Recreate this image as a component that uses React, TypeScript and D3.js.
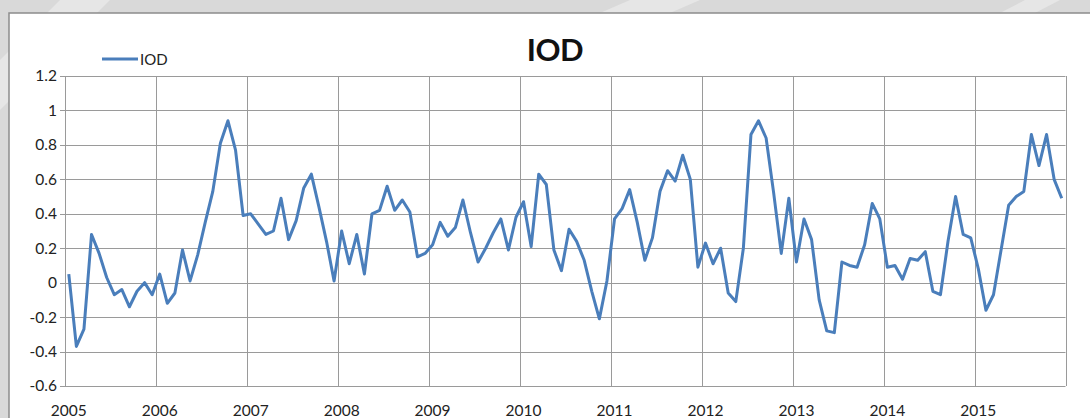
import * as d3 from 'd3';
import React, { useEffect, useRef } from "react";

// monthly IOD index, Jan 2005 .. Dec 2015
const iod2005_2007: number[] = [
    0.05, -0.37, -0.27, 0.28, 0.17, 0.03, -0.07, -0.04, -0.14, -0.05, 0.00, -0.07,
    0.05, -0.12, -0.06, 0.19, 0.01, 0.16, 0.35, 0.53, 0.81, 0.94, 0.77, 0.39,
    0.40, 0.34, 0.28, 0.30, 0.49, 0.25, 0.36, 0.55, 0.63, 0.44, 0.24, 0.01,
];
const iod2008_2010: number[] = [
    0.30, 0.11, 0.28, 0.05, 0.40, 0.42, 0.56, 0.42, 0.48, 0.41, 0.15, 0.17,
    0.22, 0.35, 0.27, 0.32, 0.48, 0.29, 0.12, 0.20, 0.29, 0.37, 0.19, 0.38,
    0.47, 0.21, 0.63, 0.57, 0.19, 0.07, 0.31, 0.24, 0.13, -0.05, -0.21, 0.01,
];
const iod2011_2013: number[] = [
    0.37, 0.43, 0.54, 0.35, 0.13, 0.26, 0.53, 0.65, 0.59, 0.74, 0.60, 0.09,
    0.23, 0.11, 0.20, -0.06, -0.11, 0.20, 0.86, 0.94, 0.84, 0.52, 0.17, 0.49,
    0.12, 0.37, 0.25, -0.10, -0.28, -0.29, 0.12, 0.10, 0.09, 0.22, 0.46, 0.37,
];
const iod2014_2015: number[] = [
    0.09, 0.10, 0.02, 0.14, 0.13, 0.18, -0.05, -0.07, 0.24, 0.50, 0.28, 0.26,
    0.08, -0.16, -0.07, 0.19, 0.45, 0.50, 0.53, 0.86, 0.68, 0.86, 0.60, 0.49,
];
const iodValues: number[] = [...iod2005_2007, ...iod2008_2010, ...iod2011_2013, ...iod2014_2015];

const yearLabels: string[] = ["2005", "2006", "2007", "2008", "2009", "2010", "2011", "2012", "2013", "2014", "2015"];
const yTicks: number[] = [-0.6, -0.4, -0.2, 0, 0.2, 0.4, 0.6, 0.8, 1, 1.2];

const App: React.FC = () => {
    const ref = useRef<SVGSVGElement>(null);

    useEffect(() => {
        if (!ref.current) return;
        const width = 1090;
        const height = 418;
        const left = 65, right = 1065.5, top = 76, bottom = 386;
        const font = "Lato, 'Open Sans', sans-serif";
        const gridColor = '#9a9a9a';

        const svg = d3.select(ref.current)
            .attr('width', width)
            .attr('height', height);
        svg.selectAll('*').remove();

        // grey page behind the chart box
        svg.append('rect').attr('width', width).attr('height', height).attr('fill', '#d9d9d9');
        svg.append('path')
            .attr('d', 'M0,60 L60,0 L110,0 L0,110 Z M600,13 L630,0 L700,0 L670,13 Z M1000,13 L1025,0 L1060,0 L1035,13 Z')
            .attr('fill', '#e6e6e6');
        svg.append('rect')
            .attr('x', 9).attr('y', 13)
            .attr('width', width).attr('height', height)
            .attr('fill', '#ffffff')
            .attr('stroke', '#8c8c8c')
            .attr('stroke-width', 1.5);

        const x = d3.scaleLinear().domain([0, iodValues.length]).range([left, right]);
        const y = d3.scaleLinear().domain([-0.6, 1.2]).range([bottom, top]);

        // horizontal grid + y ticks
        const g = svg.append('g');
        g.selectAll('.hgrid')
            .data(yTicks)
            .enter()
            .append('line')
            .attr('x1', left - 5).attr('x2', right)
            .attr('y1', d => Math.round(y(d)) + 0.5).attr('y2', d => Math.round(y(d)) + 0.5)
            .attr('stroke', gridColor);

        // vertical grid at year boundaries
        const yearStarts = yearLabels.map((_, i) => i * 12).concat([iodValues.length]);
        g.selectAll('.vgrid')
            .data(yearStarts)
            .enter()
            .append('line')
            .attr('x1', d => Math.round(x(d)) + 0.5).attr('x2', d => Math.round(x(d)) + 0.5)
            .attr('y1', top).attr('y2', bottom)
            .attr('stroke', gridColor);

        g.selectAll('.ylab')
            .data(yTicks)
            .enter()
            .append('text')
            .attr('x', 57)
            .attr('y', d => y(d))
            .attr('dy', '0.35em')
            .attr('text-anchor', 'end')
            .attr('font-family', font)
            .attr('font-size', 15.5)
            .attr('fill', '#222')
            .text(d => String(+d.toFixed(1)));

        g.selectAll('.xlab')
            .data(yearLabels)
            .enter()
            .append('text')
            .attr('x', (_, i) => x(i * 12 + 0.5))
            .attr('y', 416)
            .attr('text-anchor', 'middle')
            .attr('font-family', font)
            .attr('font-size', 15.5)
            .attr('fill', '#222')
            .text(d => d);

        const line = d3.line<number>()
            .x((_, i) => x(i + 0.5))
            .y(d => y(d));

        svg.append('path')
            .datum(iodValues)
            .attr('d', line)
            .attr('fill', 'none')
            .attr('stroke', '#4a7ebb')
            .attr('stroke-width', 3)
            .attr('stroke-linejoin', 'round');

        // title
        svg.append('text')
            .attr('x', 555).attr('y', 61)
            .attr('text-anchor', 'middle')
            .attr('font-family', font)
            .attr('font-weight', 'bold')
            .attr('font-size', 31)
            .attr('letter-spacing', -0.5)
            .attr('fill', '#111')
            .text('IOD');

        // legend
        svg.append('line')
            .attr('x1', 102).attr('x2', 138)
            .attr('y1', 59).attr('y2', 59)
            .attr('stroke', '#4a7ebb')
            .attr('stroke-width', 3);
        svg.append('text')
            .attr('x', 140).attr('y', 65)
            .attr('font-family', font)
            .attr('font-size', 15)
            .attr('fill', '#222')
            .text('IOD');
    }, []);

    return (<svg ref={ref} style={{ position: 'absolute', left: 0, top: 0 }}></svg>);
}

export default App;
